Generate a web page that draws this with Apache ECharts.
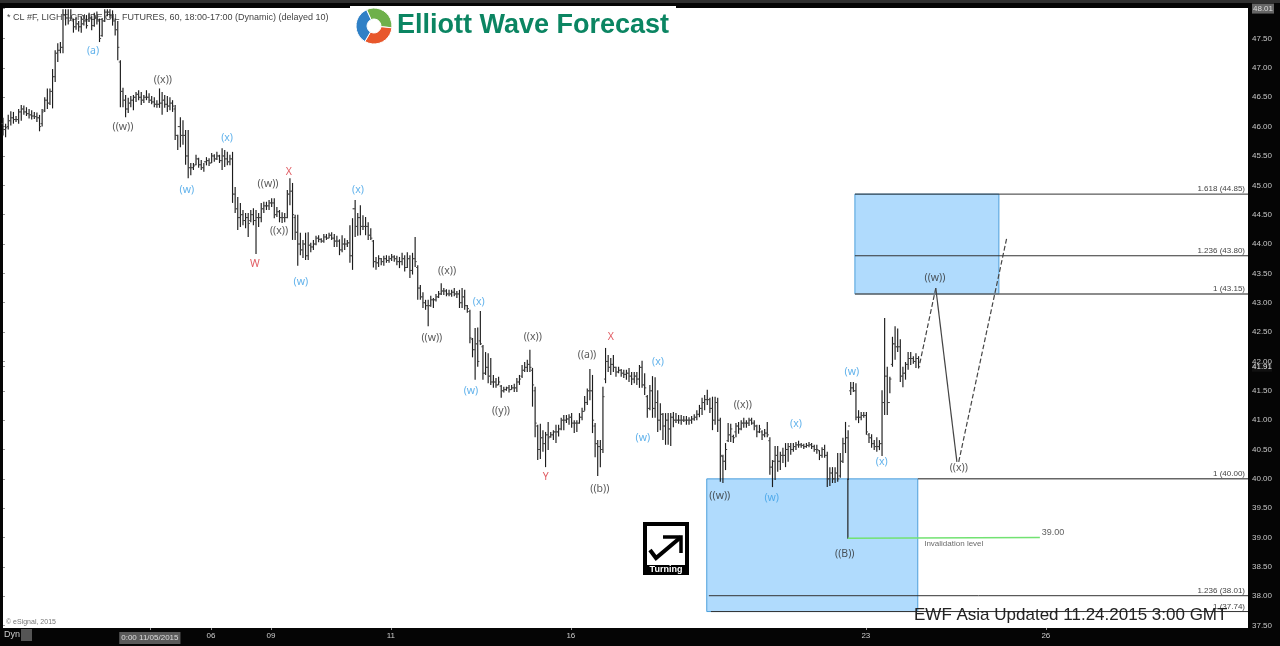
<!DOCTYPE html>
<html>
	<head>
		<meta charset="utf-8">
		<title>CL #F Elliott Wave</title>
		<style>
			html, body {
				width: 100%;
				height: 100%;
				margin: 0;
				padding: 0;
				background: #000;
			}
			#main {
				width: 1280px;
				height: 646px;
			}
		</style>
	</head>
	<body>
		<div id="main"></div>
		<script src="https://cdn.jsdelivr.net/npm/echarts@6/dist/echarts.min.js"></script>
		<script>
			// hourly bars, 10 per row
			var barOpen = [
				46.05,45.95,46.00,46.10,46.15,46.12,46.12,46.25,46.30,46.25,
				46.22,46.20,46.18,46.17,46.15,46.05,46.28,46.45,46.40,46.60,
				46.85,47.25,47.30,47.35,47.90,47.85,47.85,47.80,47.70,47.75,
				47.70,47.75,47.80,47.80,47.85,47.72,47.85,47.80,47.55,47.80,
				47.95,47.95,47.90,47.80,47.65,47.10,46.60,46.45,46.30,46.40,
				46.45,46.50,46.55,46.50,46.45,46.50,46.50,46.45,46.42,46.38,
				46.38,46.40,46.45,46.38,46.35,46.40,46.30,45.85,46.00,45.85,
				45.85,45.50,45.30,45.30,45.35,45.45,45.35,45.30,45.40,45.42,
				45.38,45.50,45.45,45.50,45.42,45.50,45.45,45.40,45.45,44.85,
				44.60,44.45,44.50,44.40,44.45,44.40,44.50,44.40,44.45,44.45,
				44.60,44.65,44.65,44.70,44.70,44.50,44.55,44.45,44.45,44.45,
				44.85,44.90,44.45,44.20,44.00,43.90,44.00,43.80,43.98,43.95,
				44.00,44.10,44.08,44.05,44.12,44.10,44.15,44.10,44.05,44.05,
				43.90,44.00,44.00,44.02,43.80,44.60,44.30,44.45,44.30,44.30,
				44.30,44.15,44.05,43.70,43.68,43.75,43.70,43.75,43.72,43.75,
				43.78,43.75,43.70,43.70,43.75,43.60,43.75,43.55,43.75,43.60,
				43.25,43.10,43.00,42.95,42.95,43.05,43.05,43.10,43.15,43.20,
				43.20,43.15,43.15,43.18,43.15,43.15,43.00,43.10,42.95,42.85,
				42.38,42.20,42.30,42.35,42.25,41.80,41.90,41.75,41.65,41.65,
				41.60,41.58,41.50,41.52,41.55,41.52,41.55,41.55,41.65,41.75,
				41.85,41.90,41.95,41.85,41.50,40.90,40.50,40.70,40.60,40.75,
				40.72,40.75,40.80,40.80,40.85,41.00,41.00,41.02,41.05,40.95,
				40.95,40.95,41.05,41.15,41.30,41.50,41.50,40.90,40.60,40.55,
				40.50,41.70,42.00,41.90,41.95,41.90,41.82,41.85,41.80,41.78,
				41.80,41.75,41.70,41.75,41.70,41.90,41.60,41.40,41.20,41.50,
				41.20,41.30,41.00,41.10,40.90,41.00,40.85,41.05,41.00,41.00,
				41.00,41.00,41.00,41.00,41.00,41.02,41.05,41.10,41.20,41.30,
				41.35,41.35,41.20,41.00,41.30,41.00,40.38,40.30,40.65,40.75,
				40.72,40.80,40.90,40.85,40.95,40.95,40.95,41.00,40.95,40.90,
				40.80,40.80,40.75,40.78,40.65,40.20,40.30,40.40,40.30,40.40,
				40.40,40.50,40.55,40.50,40.55,40.58,40.58,40.57,40.55,40.57,
				40.58,40.55,40.50,40.48,40.40,40.50,40.40,40.00,40.10,40.00,
				40.10,40.05,40.30,40.60,40.70,41.50,41.55,41.50,41.05,41.05,
				41.08,41.08,40.75,40.70,40.60,40.55,40.55,40.60,41.30,41.75,
				41.30,41.95,42.30,42.25,42.25,41.75,41.80,41.95,42.05,42.05,42.00,42.05
			];
			var barHigh = [
				46.15,46.05,46.20,46.26,46.25,46.18,46.30,46.37,46.36,46.33,
				46.30,46.28,46.25,46.24,46.20,46.30,46.50,46.65,46.65,46.98,
				47.30,47.42,47.44,48.00,48.00,48.00,48.00,47.84,47.87,47.80,
				47.87,47.90,47.90,47.94,47.88,47.94,47.96,47.84,47.85,48.00,
				48.00,48.00,47.98,47.84,47.80,47.13,46.66,46.54,46.49,46.52,
				46.54,46.59,46.62,46.59,46.54,46.62,46.57,46.52,46.50,46.45,
				46.65,46.59,46.54,46.52,46.50,46.45,46.37,45.86,46.16,46.11,
				45.94,45.94,45.38,45.38,45.52,45.47,45.43,45.38,45.48,45.46,
				45.55,45.53,45.57,45.52,45.63,45.60,45.57,45.52,45.57,44.97,
				44.80,44.70,44.58,44.53,44.53,44.58,44.61,44.58,44.53,44.70,
				44.72,44.72,44.75,44.78,44.78,44.63,44.58,44.54,44.53,44.92,
				45.12,45.04,44.50,44.50,44.19,44.07,44.19,44.20,44.02,44.07,
				44.14,44.15,44.10,44.17,44.17,44.19,44.20,44.17,44.14,44.08,
				44.15,44.10,44.07,44.32,44.44,44.75,44.53,44.66,44.49,44.46,
				44.37,44.27,44.07,43.78,43.81,43.76,43.80,43.81,43.80,43.83,
				43.81,43.80,43.78,43.85,43.81,43.86,43.81,43.85,44.12,43.64,
				43.30,43.18,43.05,43.05,43.12,43.08,43.15,43.20,43.33,43.25,
				43.23,43.22,43.22,43.25,43.20,43.22,43.25,43.22,42.96,42.88,
				42.40,42.57,42.58,42.86,42.28,42.16,42.14,42.06,41.77,41.72,
				41.74,41.60,41.57,41.57,41.60,41.60,41.62,41.72,41.77,41.94,
				41.99,42.03,42.20,41.89,41.57,40.92,40.94,40.83,40.80,40.97,
				40.80,40.83,40.92,40.92,41.04,41.09,41.09,41.10,41.12,41.00,
				41.00,41.12,41.21,41.41,41.54,41.87,41.77,40.95,40.66,40.66,
				41.57,42.23,42.11,42.06,42.11,41.91,41.91,41.87,41.86,41.86,
				41.89,41.82,41.82,41.82,41.94,42.01,41.80,41.43,41.60,41.75,
				41.73,41.51,41.29,41.12,41.12,41.12,41.12,41.14,41.12,41.09,
				41.09,41.07,41.07,41.05,41.07,41.10,41.17,41.26,41.38,41.43,
				41.52,41.38,41.40,41.40,41.38,41.04,40.41,40.61,40.95,40.94,
				40.75,40.95,40.97,41.00,41.04,41.00,41.04,41.04,41.00,40.92,
				40.92,40.83,40.85,40.97,40.71,40.32,40.56,40.56,40.46,40.53,
				40.61,40.61,40.61,40.61,40.63,40.65,40.61,40.60,40.61,40.63,
				40.61,40.58,40.58,40.49,40.54,40.58,40.46,40.20,40.20,40.20,
				40.44,40.44,40.70,40.97,40.83,41.65,41.65,41.63,41.17,41.14,
				41.14,41.14,40.78,40.76,40.66,40.71,40.66,41.51,42.74,41.91,
				41.74,42.42,42.60,42.56,42.38,41.91,41.99,42.16,42.16,42.09,42.14,42.09
			];
			var barLow = [
				45.85,45.82,45.95,46.02,46.05,46.08,46.05,46.10,46.20,46.18,
				46.14,46.12,46.13,46.08,45.92,46.00,46.25,46.30,46.37,46.31,
				46.76,47.10,47.25,47.25,47.72,47.74,47.80,47.60,47.65,47.62,
				47.60,47.72,47.67,47.78,47.64,47.70,47.74,47.44,47.53,47.78,
				47.88,47.84,47.72,47.55,47.13,46.33,46.33,46.16,46.23,46.33,
				46.28,46.42,46.45,46.37,46.40,46.45,46.40,46.38,46.33,46.32,
				46.32,46.20,46.32,46.25,46.28,46.25,45.77,45.60,45.65,45.69,
				45.35,45.12,45.17,45.26,45.34,45.30,45.26,45.23,45.34,45.33,
				45.38,45.40,45.43,45.38,45.26,45.31,45.34,45.34,44.70,44.53,
				44.24,44.29,44.32,44.27,44.12,44.37,44.32,43.83,44.29,44.37,
				44.53,44.58,44.58,44.63,44.44,44.46,44.37,44.36,44.37,44.44,
				44.66,44.07,44.07,43.63,43.81,43.76,43.73,43.73,43.86,43.90,
				43.98,44.03,44.02,44.02,44.07,44.10,44.07,43.95,43.95,43.81,
				43.86,43.90,43.95,43.68,43.56,44.12,44.14,44.15,44.24,44.15,
				44.07,44.07,43.60,43.56,43.61,43.64,43.63,43.68,43.68,43.71,
				43.70,43.64,43.59,43.64,43.53,43.59,43.42,43.48,43.61,43.05,
				43.05,42.91,42.88,42.60,42.93,42.91,43.02,43.08,43.13,43.13,
				43.11,43.11,43.10,43.11,43.08,42.91,42.91,42.88,42.83,42.31,
				42.07,41.69,41.91,42.28,41.69,41.77,41.63,41.60,41.55,41.55,
				41.60,41.38,41.47,41.50,41.47,41.52,41.48,41.48,41.60,41.72,
				41.82,41.82,41.82,41.23,40.71,40.32,40.34,40.46,40.20,40.49,
				40.70,40.66,40.61,40.72,40.83,40.83,40.95,40.92,40.87,40.78,
				40.80,40.94,41.00,41.16,41.26,41.34,40.78,40.37,40.05,40.20,
				40.44,41.63,41.82,41.77,41.82,41.74,41.80,41.74,41.72,41.69,
				41.65,41.60,41.63,41.60,41.55,41.55,41.43,41.04,41.17,41.04,
				41.04,40.80,40.83,40.66,40.58,40.58,40.56,40.88,40.95,40.94,
				40.92,40.97,40.92,40.92,40.94,40.99,41.00,41.05,41.09,41.17,
				41.26,41.12,40.83,40.92,40.80,39.95,39.93,40.15,40.63,40.63,
				40.61,40.71,40.77,40.83,40.87,40.87,40.90,40.92,40.83,40.71,
				40.78,40.66,40.71,40.71,40.07,39.86,39.98,40.12,40.15,40.27,
				40.20,40.29,40.41,40.46,40.49,40.53,40.53,40.51,40.53,40.54,
				40.51,40.46,40.43,40.32,40.36,40.36,39.86,39.88,39.93,39.93,
				39.95,40.02,40.27,40.44,39.98,41.43,41.48,41.00,40.95,41.00,
				41.04,40.75,40.61,40.53,40.49,40.46,40.49,40.39,41.09,41.09,
				41.46,41.91,42.03,42.16,41.65,41.56,41.69,41.86,41.94,41.96,41.89,41.88
			];
			var barClose = [
				45.95,45.98,46.10,46.15,46.12,46.12,46.25,46.30,46.25,46.22,
				46.20,46.18,46.17,46.15,46.00,46.25,46.45,46.40,46.60,46.85,
				47.25,47.30,47.35,47.90,47.85,47.80,47.85,47.70,47.75,47.70,
				47.75,47.80,47.72,47.85,47.72,47.85,47.80,47.50,47.80,47.95,
				47.95,47.90,47.80,47.65,47.35,46.60,46.45,46.30,46.40,46.45,
				46.50,46.55,46.50,46.45,46.50,46.50,46.45,46.42,46.38,46.38,
				46.40,46.45,46.38,46.35,46.40,46.35,45.85,46.00,45.85,45.85,
				45.50,45.30,45.30,45.33,45.45,45.35,45.30,45.40,45.42,45.38,
				45.50,45.45,45.50,45.42,45.50,45.45,45.40,45.45,44.85,44.60,
				44.45,44.50,44.40,44.45,44.35,44.50,44.40,44.45,44.45,44.60,
				44.65,44.65,44.70,44.70,44.50,44.55,44.45,44.45,44.45,44.85,
				44.90,44.50,44.20,44.00,43.90,44.00,43.80,43.98,43.95,44.00,
				44.10,44.08,44.05,44.12,44.10,44.15,44.10,44.05,44.05,43.90,
				44.00,44.00,44.02,43.80,44.60,44.30,44.45,44.30,44.30,44.30,
				44.15,44.10,43.70,43.68,43.75,43.70,43.75,43.72,43.75,43.78,
				43.75,43.70,43.70,43.75,43.60,43.75,43.55,43.75,43.70,43.25,
				43.10,43.00,42.95,42.95,43.05,43.05,43.10,43.15,43.20,43.20,
				43.15,43.15,43.18,43.15,43.15,43.00,43.10,42.95,42.90,42.40,
				42.20,42.30,42.00,42.30,41.80,41.90,41.75,41.65,41.65,41.60,
				41.65,41.50,41.52,41.55,41.52,41.55,41.55,41.65,41.70,41.85,
				41.90,41.95,41.90,41.60,40.95,40.50,40.70,40.60,40.75,40.70,
				40.75,40.80,40.80,40.85,41.00,41.00,41.02,41.05,40.95,40.95,
				40.95,41.05,41.15,41.30,41.50,41.50,41.00,40.60,40.55,40.50,
				41.40,42.00,41.90,41.95,41.90,41.82,41.85,41.80,41.78,41.80,
				41.75,41.70,41.75,41.70,41.90,41.60,41.55,41.20,41.50,41.20,
				41.30,41.00,41.10,40.90,41.00,40.85,41.05,41.00,41.00,41.00,
				41.00,41.00,41.00,41.00,41.02,41.05,41.10,41.20,41.30,41.35,
				41.35,41.20,41.00,41.30,41.00,40.40,40.30,40.50,40.75,40.85,
				40.70,40.90,40.85,40.95,40.95,40.95,41.00,40.95,40.90,40.80,
				40.85,40.75,40.78,40.75,40.20,40.30,40.40,40.30,40.40,40.40,
				40.50,40.55,40.50,40.55,40.58,40.58,40.57,40.55,40.57,40.58,
				40.55,40.50,40.50,40.40,40.50,40.40,40.00,40.10,40.00,40.10,
				40.00,40.30,40.60,40.70,40.90,41.55,41.50,41.05,41.05,41.08,
				41.08,40.80,40.70,40.60,40.55,40.55,40.60,41.30,41.75,41.30,
				41.70,42.30,42.25,42.25,41.75,41.80,41.95,42.05,42.05,42.00,42.05,41.91
			];

			// axes: x is counted in hourly bars
			var xTickBars = [56.3, 79.7, 102.7, 148.7, 217.7, 330.8, 399.8];
			var xTickLabels = ['0:00 11/05/2015', '06', '09', '11', '16', '23', '26'];
			var yTickValues = [37.5, 38, 38.5, 39, 39.5, 40, 40.5, 41, 41.5, 41.91, 42, 42.5, 43, 43.5, 44, 44.5, 45, 45.5, 46, 46.5, 47, 47.5, 48.01];

			// wave counts: [text, bar, price]
			var blueWaves = [
				['(a)', 34.5, 47.29], ['(w)', 70.5, 44.92], ['(x)', 85.9, 45.80], ['(w)', 114.2, 43.35],
				['(x)', 136.1, 44.92], ['(x)', 182.4, 43.01], ['(w)', 179.4, 41.50], ['(x)', 251.1, 41.99],
				['(w)', 245.3, 40.70], ['(x)', 304, 40.94], ['(w)', 294.7, 39.68], ['(w)', 325.4, 41.82], ['(x)', 336.9, 40.29]
			];
			var darkWaves = [
				['((x))', 61.3, 46.79], ['((w))', 46, 45.99], ['((w))', 101.6, 45.02], ['((x))', 105.8, 44.22],
				['((x))', 170.2, 43.54], ['((w))', 164.4, 42.40], ['((x))', 203.1, 42.42], ['((y))', 190.9, 41.16],
				['((a))', 223.9, 42.11], ['((b))', 228.8, 39.83], ['((w))', 274.8, 39.71], ['((x))', 283.6, 41.26],
				['((B))', 322.7, 38.72], ['((w))', 357.3, 43.42], ['((x))', 366.4, 40.18]
			];
			var redWaves = [['X', 109.6, 45.23], ['W', 96.6, 43.66], ['Y', 208.1, 40.03], ['X', 233, 42.42]];

			// blue target boxes: [bar from, bar to, price top, price bottom]
			var targetBoxes = [[326.6, 381.8, 44.85, 43.15], [269.8, 350.7, 40, 37.74]];
			// fib levels: [bar from, price, text]
			var fibLevels = [
				[326.6, 44.85, '1.618 (44.85)'], [326.6, 43.80, '1.236 (43.80)'], [326.6, 43.15, '1 (43.15)'],
				[350.7, 40, '1 (40.00)'], [270.6, 38.01, '1.236 (38.01)'], [271.4, 37.74, '1 (37.74)']
			];
			var xEnd = 477.3;
			var yMin = 37.46, yMax = 48.02;

			// projected path and invalidation
			var pathDashedUp = [[351.5, 41.97], [357.6, 43.25]];
			var pathSolidDown = [[357.6, 43.25], [365.7, 40.29]];
			var pathDashedEnd = [[366.4, 40.29], [384.8, 44.1]];
			var invalidDrop = [[323.9, 40], [323.9, 38.98]];
			var invalidLine = [[323.9, 38.99], [397.5, 39]];

			var barData = barHigh.map(function(h, i) {
				return [i, barOpen[i], h, barLow[i], barClose[i]];
			});

			function renderBar(params, api) {
				var x = api.value(0);
				var top = api.coord([x, api.value(2)]);
				var bot = api.coord([x, api.value(3)]);
				var op = api.coord([x, api.value(1)]);
				var cl = api.coord([x, api.value(4)]);
				var px = top[0];
				return {
					type: 'group',
					children: [
						{type: 'line', shape: {x1: px, y1: top[1], x2: px, y2: bot[1]}, style: {stroke: '#1c1c1c', lineWidth: 1.15}},
						{type: 'line', shape: {x1: px - 1.6, y1: op[1], x2: px, y2: op[1]}, style: {stroke: '#444', lineWidth: 1}},
						{type: 'line', shape: {x1: px, y1: cl[1], x2: px + 1.6, y2: cl[1]}, style: {stroke: '#444', lineWidth: 1}}
					]
				};
			}

			function renderBox(params, api) {
				var a = api.coord([api.value(0), api.value(2)]);
				var b = api.coord([api.value(1), api.value(3)]);
				return {
					type: 'rect',
					shape: {x: a[0], y: a[1], width: b[0] - a[0], height: b[1] - a[1]},
					style: {fill: '#b0dbfd', stroke: '#4d9fdb', lineWidth: 1}
				};
			}

			function renderLevel(params, api) {
				var a = api.coord([api.value(0), api.value(1)]);
				var b = api.coord([xEnd, api.value(1)]);
				var grey = api.value(1) == 43.15 || api.value(1) == 40;
				return {
					type: 'group',
					children: [
						{type: 'line', shape: {x1: a[0], y1: a[1], x2: b[0], y2: b[1]}, style: {stroke: grey ? '#666' : '#333', lineWidth: grey ? 1.5 : 1}},
						{type: 'text', style: {text: fibLevels[params.dataIndex][2], x: 1245, y: a[1] - 1, textAlign: 'right', textVerticalAlign: 'bottom', font: '8px "Liberation Sans"', fill: '#444'}}
					]
				};
			}

			function waveSeries(list, color) {
				return {
					type: 'scatter',
					symbolSize: 0,
					silent: true,
					z: 8,
					data: list.map(function(w) { return {value: [w[1], w[2]], name: w[0]}; }),
					label: {
						show: true,
						position: 'inside',
						formatter: '{b}',
						color: color,
						fontFamily: 'Noto Sans',
						fontSize: 10.5
					}
				};
			}

			function pathSeries(points, color, dash, width) {
				return {
					type: 'line',
					data: points,
					symbol: 'none',
					silent: true,
					z: 7,
					lineStyle: {color: color, width: width, type: dash}
				};
			}

			var chart = echarts.init(document.getElementById('main'));
			chart.setOption({
				animation: false,
				backgroundColor: '#050505',
				grid: {
					show: true,
					left: 3,
					right: 32,
					top: 8,
					bottom: 18,
					backgroundColor: '#fff',
					borderWidth: 0
				},
				xAxis: {
					type: 'value',
					min: 0,
					max: xEnd,
					splitLine: {show: false},
					axisLine: {show: false},
					axisTick: {show: true, length: 2, customValues: xTickBars, lineStyle: {color: '#999'}},
					axisLabel: {
						customValues: xTickBars,
						margin: 4,
						color: '#ccc',
						fontFamily: 'Liberation Sans',
						fontSize: 8,
						formatter: function(v) {
							var t = xTickLabels[xTickBars.indexOf(v)];
							return t.length > 2 ? '{cur|' + t + '}' : t;
						},
						rich: {
							cur: {backgroundColor: '#5a5a5a', color: '#ddd', fontSize: 8, padding: [2, 2, 2, 2]}
						}
					}
				},
				yAxis: {
					type: 'value',
					position: 'right',
					min: yMin,
					max: yMax,
					splitLine: {show: false},
					axisLine: {show: false},
					axisTick: {show: true, length: 2, customValues: yTickValues, lineStyle: {color: '#999'}},
					axisLabel: {
						customValues: yTickValues,
						margin: 4,
						color: '#c8c8c8',
						fontFamily: 'Liberation Sans',
						fontSize: 8,
						formatter: function(v) {
							if (v == 48.01) return '{last|48.01}';
							if (v == 41.91) return '{cur|41.91}';
							return v.toFixed(2);
						},
						rich: {
							last: {backgroundColor: '#666', color: '#ddd', fontSize: 8, padding: [1, 1, 1, 1]},
							cur: {backgroundColor: '#111', color: '#eee', fontSize: 8, padding: [1, 0, 1, 0]}
						}
					}
				},
				series: [
					{type: 'custom', coordinateSystem: 'cartesian2d', renderItem: renderBox, data: targetBoxes, z: 3, silent: true},
					{type: 'custom', coordinateSystem: 'cartesian2d', renderItem: renderBar, data: barData, encode: {x: 0, y: [2, 3]}, z: 4, silent: true},
					{type: 'custom', coordinateSystem: 'cartesian2d', renderItem: renderLevel, data: fibLevels.map(function(l) { return [l[0], l[1]]; }), z: 5, silent: true},
					pathSeries(pathDashedUp, '#444', 'dashed', 1.2),
					pathSeries(pathSolidDown, '#444', 'solid', 1.2),
					pathSeries(pathDashedEnd, '#444', 'dashed', 1.2),
					pathSeries(invalidDrop, '#222', 'solid', 1.2),
					pathSeries(invalidLine, '#72e272', 'solid', 1.5),
					waveSeries(blueWaves, '#3a9fe6'),
					waveSeries(darkWaves, '#2e2e2e'),
					waveSeries(redWaves, '#d9333c'),
					{
						type: 'scatter', symbolSize: 0, silent: true, z: 8,
						data: [{value: [402.5, 39.08], name: '39.00'}],
						label: {show: true, position: 'inside', formatter: '{b}', color: '#333', fontFamily: 'Liberation Sans', fontSize: 9}
					},
					{
						type: 'scatter', symbolSize: 0, silent: true, z: 8,
						data: [{value: [364.5, 38.9], name: 'Invalidation level'}],
						label: {show: true, position: 'inside', formatter: '{b}', color: '#444', fontFamily: 'Liberation Sans', fontSize: 8}
					}
				],
				graphic: [
					{type: 'text', z: 1, style: {text: '* CL #F, LIGHT CRUDE OIL FUTURES, 60, 18:00-17:00 (Dynamic) (delayed 10)', x: 7, y: 13, font: '9px "Liberation Sans"', fill: '#444'}},
					{type: 'text', z: 1, style: {text: '\u00a9 eSignal, 2015', x: 6, y: 619, font: '7px "Liberation Sans"', fill: '#777'}},
					{type: 'rect', z: 20, shape: {x: 0, y: 0, width: 1280, height: 3}, style: {fill: '#303030'}},
					{type: 'rect', z: 20, shape: {x: 21, y: 629, width: 11, height: 12}, style: {fill: '#555'}},
					{type: 'text', z: 20, style: {text: 'Dyn', x: 4, y: 630, font: '9px "Liberation Sans"', fill: '#ccc'}},
					// logo
					{type: 'rect', z: 30, shape: {x: 350, y: 6, width: 326, height: 40}, style: {fill: '#fff'}},
					{type: 'sector', z: 31, shape: {cx: 374, cy: 26, r: 18, r0: 7, startAngle: -2.0, endAngle: 0.1}, style: {fill: '#6eb04a', stroke: '#fff', lineWidth: 1}},
					{type: 'sector', z: 31, shape: {cx: 374, cy: 26, r: 18, r0: 7, startAngle: 0.1, endAngle: 2.1}, style: {fill: '#e8572b', stroke: '#fff', lineWidth: 1}},
					{type: 'sector', z: 31, shape: {cx: 374, cy: 26, r: 18, r0: 7, startAngle: 2.1, endAngle: 4.28}, style: {fill: '#2f80c6', stroke: '#fff', lineWidth: 1}},
					{type: 'text', z: 31, style: {text: 'Elliott Wave Forecast', x: 397, y: 12, font: 'bold 27px "Liberation Sans"', fill: '#0b8562'}},
					// turning badge
					{type: 'rect', z: 30, shape: {x: 643, y: 522, width: 46, height: 53}, style: {fill: '#000'}},
					{type: 'rect', z: 31, shape: {x: 647, y: 526, width: 38, height: 39}, style: {fill: '#fff'}},
					{type: 'polyline', z: 32, shape: {points: [[650, 550], [656, 558], [681, 537]]}, style: {stroke: '#000', lineWidth: 4, fill: 'none'}},
					{type: 'polyline', z: 32, shape: {points: [[663, 537], [681, 537], [681, 553]]}, style: {stroke: '#000', lineWidth: 3.5, fill: 'none'}},
					{type: 'text', z: 32, style: {text: 'Turning', x: 666, y: 565, textAlign: 'center', font: 'bold 9px "Liberation Sans"', fill: '#fff'}},
					// update stamp
					{type: 'text', z: 40, style: {text: 'EWF Asia Updated 11.24.2015 3:00 GMT', x: 914, y: 607, font: '17px "Liberation Sans"', fill: '#222', textShadowColor: '#999', textShadowOffsetX: 1, textShadowOffsetY: 1, textShadowBlur: 0}}
				]
			});
		</script>
	</body>
</html>
